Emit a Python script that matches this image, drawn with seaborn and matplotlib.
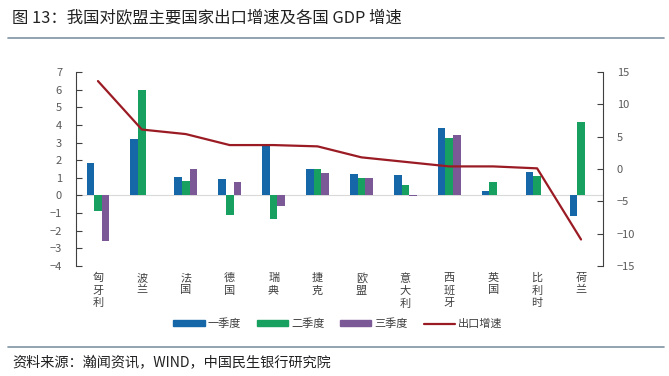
import numpy as np
import pandas as pd
import seaborn as sns
import matplotlib.pyplot as plt
from matplotlib.lines import Line2D
from matplotlib.patches import Patch

countries = ['匈牙利', '波兰', '法国', '德国', '瑞典', '捷克', '欧盟', '意大利', '西班牙', '英国', '比利时', '荷兰']
q1 = [1.82, 3.22, 1.02, 0.91, 2.86, 1.50, 1.21, 1.14, 3.80, 0.25, 1.31, -1.17]
q2 = [-0.89, 5.98, 0.81, -1.08, -1.36, 1.50, 1.00, 0.59, 3.28, 0.74, 1.12, 4.15]
q3 = [-2.60, np.nan, 1.50, 0.74, -0.60, 1.29, 1.00, -0.05, 3.41, np.nan, np.nan, np.nan]
export_growth = [13.6, 6.1, 5.4, 3.7, 3.7, 3.5, 1.8, 1.1, 0.4, 0.4, 0.1, -10.9]
series_names = ['一季度', '二季度', '三季度']
line_name = '出口增速'

colors = ['#1667A8', '#18A060', '#7B5997']
line_color = '#9B1B24'

df = pd.DataFrame({'country': countries * 3,
                   'quarter': sum([[s] * len(countries) for s in series_names], []),
                   'gdp': q1 + q2 + q3})

sns.set_theme(style='white')
plt.rcParams['font.family'] = ['Noto Sans CJK SC', 'DejaVu Sans']
plt.rcParams['axes.unicode_minus'] = True

fig = plt.figure(figsize=(6.69, 3.76), dpi=100)
ax = fig.add_axes([76 / 669, 1 - 266 / 376, 527 / 669, 194 / 376])

sns.barplot(data=df, x='country', y='gdp', hue='quarter', hue_order=series_names,
            palette=colors, width=0.52, gap=0, saturation=1, linewidth=0,
            ax=ax, legend=False)

ax.axhline(0, color='#D9D9D9', lw=0.8, zorder=0)
ax.set_ylim(-4, 7)
ax.set_yticks(range(-4, 8))
ax.set_xlim(-0.5, 11.5)
ax.set_xlabel('')
ax.set_ylabel('')
ax.set_xticks(range(len(countries)))
ax.set_xticklabels(['\n'.join(c) for c in countries], fontsize=8, color='#404040',
                   linespacing=1.3, va='top')
ax.tick_params(axis='x', length=0, pad=5)
ax.tick_params(axis='y', direction='in', length=4, width=0.8, color='#404040',
               labelsize=8, labelcolor='#595959', pad=10)
for s in ['top', 'right', 'bottom']:
    ax.spines[s].set_visible(False)
ax.spines['left'].set_color('#404040')
ax.spines['left'].set_linewidth(0.8)

ax2 = ax.twinx()
sns.lineplot(x=np.arange(len(countries)), y=export_growth, color=line_color, lw=1.6, ax=ax2)
ax2.set_ylim(-15, 15)
ax2.set_yticks(range(-15, 16, 5))
ax2.tick_params(axis='y', direction='in', length=4, width=0.8, color='#404040',
                labelsize=8, labelcolor='#595959', pad=10)
for s in ['top', 'left', 'bottom']:
    ax2.spines[s].set_visible(False)
ax2.spines['right'].set_color('#404040')
ax2.spines['right'].set_linewidth(0.8)
ax2.set_xlim(-0.5, 11.5)

handles = [Patch(color=c, label=n) for c, n in zip(colors, series_names)]
handles.append(Line2D([], [], color=line_color, lw=1.6, label=line_name))
fig.legend(handles=handles, loc='center', bbox_to_anchor=(338 / 669, 1 - 324 / 376),
           ncol=4, frameon=False, fontsize=8, handlelength=2.8, handleheight=0.45,
           handletextpad=0.3, columnspacing=1.4, labelcolor='#404040')

fig.text(12 / 669, 1 - 18 / 376, '图 13：我国对欧盟主要国家出口增速及各国 GDP 增速',
         fontsize=11.8, color='#222222', va='center')
fig.add_artist(Line2D([8 / 669, 664 / 669], [1 - 38 / 376] * 2, color='#7F93A3', lw=1.2))
fig.add_artist(Line2D([8 / 669, 664 / 669], [1 - 347 / 376] * 2, color='#7F93A3', lw=1.2))
fig.text(12 / 669, 1 - 363 / 376, '资料来源：瀚闻资讯，WIND，中国民生银行研究院',
         fontsize=10.2, color='#222222', va='center')

fig.savefig('out.png', dpi=100)
